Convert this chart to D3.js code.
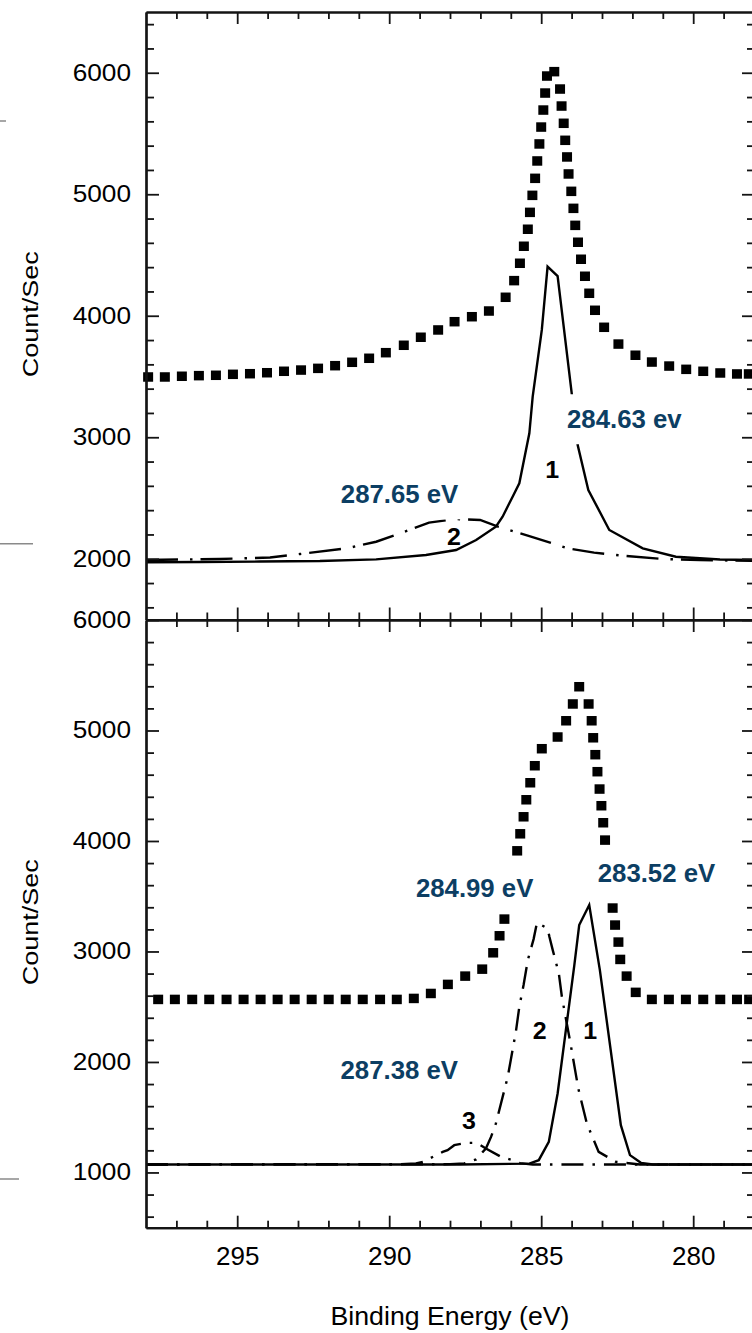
<!DOCTYPE html>
<html>
<head>
<meta charset="utf-8">
<script src="https://cdn.jsdelivr.net/npm/d3@7"></script>
<style>
  html, body { margin: 0; padding: 0; background: #fff; }
  svg { display: block; }
</style>
</head>
<body>
<svg id="chart" width="752" height="1333"></svg>
<script>
// ---------------- data: C 1s spectra, binding energy (eV) vs count/sec ----------------

// upper spectrum: measured envelope (square markers)
const topEnvelope = [
  [297.93,3496],[297.38,3496],[296.82,3502],[296.26,3507],[295.70,3510],[295.14,3518],
  [294.58,3523],[294.02,3531],[293.46,3543],[292.90,3553],[292.34,3567],[291.78,3589],
  [291.22,3617],[290.66,3650],[290.11,3696],[289.52,3757],[288.96,3823],[288.39,3883],
  [287.85,3951],[287.28,3992],[286.72,4039],[286.17,4152],[285.89,4289],[285.70,4432],
  [285.57,4572],[285.44,4712],[285.37,4851],[285.29,4991],[285.20,5131],[285.13,5274],
  [285.06,5414],[285.00,5553],[284.93,5693],[284.87,5833],[284.81,5973],[284.57,6009],
  [284.38,5866],[284.33,5726],[284.26,5584],[284.21,5444],[284.15,5307],[284.10,5167],
  [284.01,5024],[283.94,4884],[283.88,4744],[283.79,4605],[283.69,4465],[283.56,4325],
  [283.42,4185],[283.23,4045],[282.93,3905],[282.46,3767],[281.90,3675],[281.36,3619],
  [280.79,3586],[280.23,3559],[279.67,3543],[279.11,3529],[278.56,3521],[278.17,3521]
];
// upper spectrum: fitted component 1 (solid)
const topComp1 = [
  [298.00,1971],[296.22,1973],[294.25,1977],[292.28,1981],[290.43,1995],[288.79,2031],
  [287.80,2072],[287.14,2154],[286.49,2264],[286.27,2346],[285.94,2511],[285.72,2621],
  [285.39,3033],[285.28,3334],[284.98,3883],[284.79,4404],[284.46,4327],[284.00,3370],
  [283.80,2936],[283.45,2566],[282.76,2237],[281.66,2086],[280.57,2017],[279.12,1994],
  [278.00,1990]
];
// upper spectrum: fitted component 2 (dash-dot)
const topComp2 = [
  [298.00,1990],[295.57,1998],[293.92,2010],[292.93,2039],[291.39,2086],[290.43,2140],
  [289.61,2212],[288.69,2297],[287.84,2327],[287.01,2319],[286.42,2264],[285.39,2187],
  [284.13,2086],[283.26,2050],[282.21,2023],[281.00,1998],[279.78,1990],[278.00,1982]
];

// lower spectrum: measured envelope (square markers)
const botEnvelope = [
  [297.60,2566],[297.05,2566],[296.48,2566],[295.92,2566],[295.35,2566],[294.79,2566],
  [294.23,2566],[293.67,2566],[293.11,2566],[292.55,2566],[291.99,2566],[291.43,2566],
  [290.87,2566],[290.30,2566],[289.75,2566],[289.19,2575],[288.63,2620],[288.07,2702],
  [287.50,2777],[286.94,2840],[286.58,2988],[286.37,3142],[286.21,3293],[285.79,3911],
  [285.69,4065],[285.58,4219],[285.49,4373],[285.36,4527],[285.21,4681],[284.98,4835],
  [284.46,4941],[284.18,5088],[283.96,5240],[283.75,5396],[283.44,5240],[283.34,5088],
  [283.29,4934],[283.22,4781],[283.15,4627],[283.08,4470],[283.02,4319],[282.96,4165],
  [282.90,4008],[282.65,3393],[282.57,3239],[282.46,3085],[282.40,2928],[282.19,2777],
  [281.89,2630],[281.36,2566],[280.80,2566],[280.24,2566],[279.67,2566],[279.11,2566],
  [278.56,2566],[278.16,2566]
];
// lower spectrum: component 1 (solid)
const botComp1 = [
  [298.00,1072],[287.67,1072],[285.39,1080],[285.08,1111],[284.75,1277],[284.46,1715],
  [283.91,2877],[283.75,3239],[283.42,3420],[283.07,2831],[282.38,1428],[282.08,1157],
  [281.72,1087],[281.33,1072],[278.00,1072]
];
// lower spectrum: component 2 (dash-dot)
const botComp2 = [
  [298.00,1072],[288.00,1075],[287.53,1081],[287.14,1118],[286.82,1217],[286.65,1322],
  [286.49,1444],[286.10,1866],[285.83,2279],[285.72,2499],[285.58,2696],[285.44,2922],
  [285.25,3112],[285.14,3260],[284.79,3209],[284.73,3133],[284.62,3012],[284.42,2801],
  [284.32,2590],[284.04,2173],[283.78,1760],[283.50,1444],[283.34,1338],[283.11,1186],
  [282.54,1096],[281.75,1072],[278.00,1072]
];
// lower spectrum: component 3 (dash-dot)
const botComp3 = [
  [298.00,1072],[289.64,1075],[289.12,1081],[288.89,1096],[288.24,1186],[288.08,1202],
  [287.86,1247],[287.47,1268],[287.14,1268],[287.04,1253],[286.82,1217],[286.32,1141],
  [285.94,1111],[285.70,1084],[285.28,1072],[278.00,1072]
];

// tick values
const energyMajor = [295, 290, 285, 280];
const energyMinor = [297, 296, 294, 293, 292, 291, 289, 288, 287, 286, 284, 283, 282, 281, 279];
const topCountMajor = [2000, 3000, 4000, 5000, 6000];
const topCountMinor = [1600, 1800, 2200, 2400, 2600, 2800, 3200, 3400, 3600, 3800, 4200, 4400,
                       4600, 4800, 5200, 5400, 5600, 5800, 6200, 6400];
const botCountMajor = [1000, 2000, 3000, 4000, 5000, 6000];
const botCountMinor = [600, 800, 1200, 1400, 1600, 1800, 2200, 2400, 2600, 2800, 3200, 3400,
                       3600, 3800, 4200, 4400, 4600, 4800, 5200, 5400, 5600, 5800];

// peak annotations (anchored in data coordinates)
const topPeakLabels = [
  { text: "284.63 ev", ev: 284.15, counts: 3074 },
  { text: "287.65 eV", ev: 291.59, counts: 2456 }
];
const topCompLabels = [
  { text: "1", ev: 284.64, counts: 2662 },
  { text: "2", ev: 287.87, counts: 2113 }
];
const botPeakLabels = [
  { text: "284.99 eV", ev: 289.12, counts: 3495 },
  { text: "283.52 eV", ev: 283.14, counts: 3625 },
  { text: "287.38 eV", ev: 291.60, counts: 1845 }
];
const botCompLabels = [
  { text: "2", ev: 285.05, counts: 2207 },
  { text: "1", ev: 283.39, counts: 2207 },
  { text: "3", ev: 287.38, counts: 1389 }
];

// ---------------- drawing ----------------
const FONT = '"Liberation Sans", Arial, Helvetica, sans-serif';
const INK = "#141414";
const LABEL_BLUE = "#0c3e63";

const svg = d3.select("#chart");
svg.append("rect").attr("width", 752).attr("height", 1333).attr("fill", "#fff");

const x = d3.scaleLinear().domain([298, 278]).range([146, 754]);

const panels = [
  {
    y: d3.scaleLinear().domain([1500, 6500]).range([619.5, 12]),
    major: topCountMajor, minor: topCountMinor,
    envelope: topEnvelope,
    comps: [{ data: topComp2, dash: "32,12,2.5,8" }, { data: topComp1, dash: null }],
    peakLabels: topPeakLabels, compLabels: topCompLabels,
    energyLabels: false
  },
  {
    y: d3.scaleLinear().domain([500, 6000]).range([1227.7, 620]),
    major: botCountMajor, minor: botCountMinor,
    envelope: botEnvelope,
    comps: [{ data: botComp3, dash: "22,9,2.5,9" }, { data: botComp2, dash: "22,9,2.5,9" },
            { data: botComp1, dash: null }],
    peakLabels: botPeakLabels, compLabels: botCompLabels,
    energyLabels: true
  }
];

// widen glyphs horizontally to the lettering used on this figure
function stretch(sel, k) {
  sel.each(function () {
    const len = this.getComputedTextLength();
    this.setAttribute("textLength", len * k);
    this.setAttribute("lengthAdjust", "spacingAndGlyphs");
  });
}

function styleAxis(g) {
  g.selectAll(".domain").attr("stroke", INK).attr("stroke-width", 2.2);
  g.selectAll(".tick line").attr("stroke", INK).attr("stroke-width", 1.8);
  g.attr("font-family", FONT);
}

panels.forEach(p => {
  const [yb, yt] = p.y.range();
  const gp = svg.append("g");

  // envelope markers
  gp.append("g").selectAll("rect")
    .data(p.envelope)
    .join("rect")
    .attr("x", d => x(d[0]) - 5)
    .attr("y", d => p.y(d[1]) - 4.75)
    .attr("width", 10)
    .attr("height", 9.5)
    .attr("fill", "#000");

  // fitted components
  const line = d3.line().x(d => x(d[0])).y(d => p.y(d[1]));
  p.comps.forEach(c => {
    gp.append("path")
      .datum(c.data)
      .attr("d", line)
      .attr("fill", "none")
      .attr("stroke", "#000")
      .attr("stroke-width", 2.4)
      .attr("stroke-linejoin", "miter")
      .attr("stroke-dasharray", c.dash);
  });

  // axes: left
  const left = gp.append("g").attr("transform", "translate(146,0)");
  left.append("g").call(d3.axisLeft(p.y).tickValues(p.minor).tickSize(-8).tickSizeOuter(0).tickFormat(""));
  const leftMajor = left.append("g").call(d3.axisLeft(p.y).tickValues(p.major).tickSize(-13)
    .tickSizeOuter(0).tickPadding(15).tickFormat(d3.format("d")));
  styleAxis(left);
  leftMajor.selectAll(".tick text").attr("font-size", 23).attr("fill", "#000")
    .attr("font-family", FONT).call(stretch, 1.14);

  // right
  const right = gp.append("g").attr("transform", "translate(754,0)");
  right.append("g").call(d3.axisRight(p.y).tickValues(p.minor).tickSize(-7).tickSizeOuter(0).tickFormat(""));
  right.append("g").call(d3.axisRight(p.y).tickValues(p.major).tickSize(-12).tickSizeOuter(0).tickFormat(""));
  styleAxis(right);

  // top
  const top = gp.append("g").attr("transform", `translate(0,${yt})`);
  top.append("g").call(d3.axisTop(x).tickValues(energyMinor).tickSize(-7).tickSizeOuter(0).tickFormat(""));
  top.append("g").call(d3.axisTop(x).tickValues(energyMajor).tickSize(-12).tickSizeOuter(0).tickFormat(""));
  styleAxis(top);

  // bottom
  const bottom = gp.append("g").attr("transform", `translate(0,${yb})`);
  bottom.append("g").call(d3.axisBottom(x).tickValues(energyMinor).tickSize(-7).tickSizeOuter(0).tickFormat(""));
  const bottomMajor = bottom.append("g").call(d3.axisBottom(x).tickValues(energyMajor).tickSize(-12)
    .tickSizeOuter(0).tickPadding(20).tickFormat(p.energyLabels ? d3.format("d") : ""));
  styleAxis(bottom);
  bottomMajor.selectAll(".tick text").attr("font-size", 25).attr("fill", "#000")
    .attr("font-family", FONT).call(stretch, 1.04);

  // y-axis title
  svg.append("text")
    .attr("transform", `translate(38,${(yb + yt) / 2 - 1.5}) rotate(-90)`)
    .attr("text-anchor", "middle")
    .attr("font-family", FONT)
    .attr("font-size", 22)
    .attr("fill", "#000")
    .text("Count/Sec")
    .each(function () {
      this.setAttribute("textLength", 126);
      this.setAttribute("lengthAdjust", "spacingAndGlyphs");
    });

  // peak position labels on a white ground
  const pl = svg.append("g");
  p.peakLabels.forEach(l => {
    const t = pl.append("text")
      .attr("x", x(l.ev))
      .attr("y", p.y(l.counts))
      .attr("font-family", FONT)
      .attr("font-size", 25)
      .attr("font-weight", "bold")
      .attr("fill", LABEL_BLUE)
      .text(l.text)
      .call(stretch, 1.03);
    const b = t.node().getBBox();
    pl.insert("rect", () => t.node())
      .attr("x", b.x - 4).attr("y", b.y - 11)
      .attr("width", b.width + 8).attr("height", b.height + 22)
      .attr("fill", "#fff");
  });

  // component numbers
  svg.append("g").selectAll("text")
    .data(p.compLabels)
    .join("text")
    .attr("x", d => x(d.ev))
    .attr("y", d => p.y(d.counts))
    .attr("text-anchor", "middle")
    .attr("font-family", FONT)
    .attr("font-size", 24)
    .attr("font-weight", "bold")
    .attr("fill", "#000")
    .text(d => d.text)
    .call(stretch, 1.04);
});

// x-axis title
svg.append("text")
  .attr("x", x(288))
  .attr("y", 1325)
  .attr("text-anchor", "middle")
  .attr("font-family", FONT)
  .attr("font-size", 25.5)
  .attr("fill", "#000")
  .text("Binding Energy (eV)")
  .each(function () {
    this.setAttribute("textLength", 239);
    this.setAttribute("lengthAdjust", "spacingAndGlyphs");
  });

// short grey rules at the left page margin
const marginRules = [
  { y: 121, len: 6 },
  { y: 543.7, len: 33 },
  { y: 1179, len: 19 }
];
svg.append("g").selectAll("line")
  .data(marginRules)
  .join("line")
  .attr("x1", 0).attr("x2", d => d.len)
  .attr("y1", d => d.y).attr("y2", d => d.y)
  .attr("stroke", "#8a8a8a")
  .attr("stroke-width", 1.5);
</script>
</body>
</html>
